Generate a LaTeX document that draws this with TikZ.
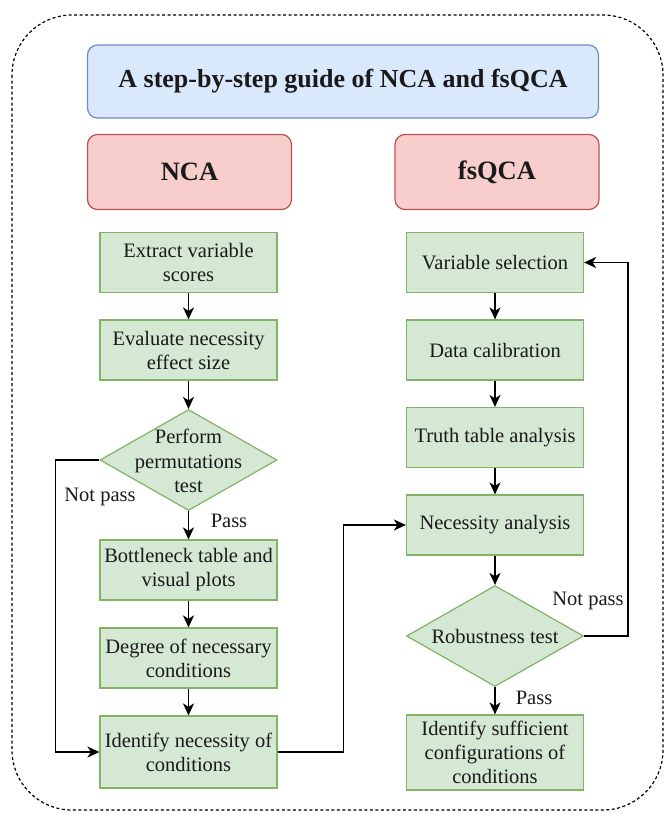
\documentclass[tikz,border=0pt]{standalone}
\usepackage{fontspec}
\setmainfont{Liberation Serif}
\usetikzlibrary{arrows.meta,shapes.geometric}
\definecolor{gfill}{HTML}{D5E8D4}
\definecolor{gline}{HTML}{82B366}
\definecolor{rfill}{HTML}{F8CECC}
\definecolor{rline}{HTML}{B85450}
\definecolor{bfill}{HTML}{DAE8FC}
\definecolor{bline}{HTML}{6C8EBF}
\definecolor{txt}{HTML}{1A1A1A}
\begin{document}
\begin{tikzpicture}[x=1pt,y=-1pt,
  gbox/.style={draw=gline,fill=gfill,line width=1.2pt,minimum width=177pt,minimum height=60pt,align=center,inner sep=1pt,text=txt,font=\fontsize{20.5}{24}\selectfont},
  gdia/.style={draw=gline,fill=gfill,line width=1.2pt,diamond,minimum width=177pt,minimum height=101pt,inner sep=0pt},
  dtext/.style={align=center,text=txt,font=\fontsize{20.5}{24.5}\selectfont},
  hbox/.style={draw=rline,fill=rfill,line width=1.2pt,rounded corners=10pt,minimum width=204pt,minimum height=75pt,text=txt,font=\fontsize{26.5}{30}\selectfont\bfseries},
  lbl/.style={text=txt,font=\fontsize{20.5}{24}\selectfont},
  arr/.style={draw=black,line width=1.6pt,-{Stealth[length=12pt,width=11pt,inset=3.5pt]}},
  ln/.style={draw=black,line width=1.6pt}]
\useasboundingbox (0,0) rectangle (666,817);
% outer dashed frame
\draw[line width=1.2pt,dash pattern=on 3pt off 2.5pt,rounded corners=60pt] (12,15) rectangle (663,810);
% title and headers
\node[draw=bline,fill=bfill,line width=1.2pt,rounded corners=10pt,minimum width=511pt,minimum height=73pt,text=txt,font=\fontsize{26}{30}\selectfont\bfseries] (title) at (343,81.5) {A step-by-step guide of NCA and fsQCA};
\node[hbox] (nca) at (189.5,172) {NCA};
\node[hbox] (fsq) at (497,172) {fsQCA};
% NCA column
\node[gbox] (n1) at (188.5,262.5) {Extract variable\\scores};
\node[gbox] (n2) at (188.5,350) {Evaluate necessity\\effect size};
\node[gdia] (d1) at (188.5,460) {};
\node[dtext] (d1t) at (188.5,461) {Perform\\permutations\\test};
\node[gbox] (n3) at (188.5,570) {Bottleneck table and\\visual plots};
\node[gbox] (n4) at (188.5,658) {Degree of necessary\\conditions};
\node[gbox,minimum height=72pt] (n5) at (188.5,752) {Identify necessity of\\conditions};
% fsQCA column
\node[gbox] (r1) at (495,262.5) {Variable selection};
\node[gbox] (r2) at (495,350) {Data calibration};
\node[gbox] (r3) at (495,437.5) {Truth table analysis};
\node[gbox] (r4) at (495,525) {Necessity analysis};
\node[gdia] (d2) at (495,636) {};
\node[dtext] (d2t) at (495,636) {Robustness test};
\node[gbox,minimum height=75pt] (r5) at (495,752.5) {Identify sufficient\\configurations of\\conditions};
% arrows NCA
\draw[arr] (n1) -- (n2);
\draw[arr] (n2) -- (d1);
\draw[arr] (d1) -- (n3);
\draw[arr] (n3) -- (n4);
\draw[arr] (n4) -- (n5);
\draw[arr] (d1.west) -- ++(-44,0) |- (n5.west);
\draw[arr] (n5.east) -- ++(66,0) |- (r4.west);
% arrows fsQCA
\draw[arr] (r1) -- (r2);
\draw[arr] (r2) -- (r3);
\draw[arr] (r3) -- (r4);
\draw[arr] (r4) -- (d2);
\draw[arr] (d2) -- (r5);
\draw[arr] (d2.east) -- ++(44,0) |- (r1.east);
% labels
\node[lbl] (l1) at (100,497) {Not pass};
\node[lbl] (l2) at (229,521) {Pass};
\node[lbl] (l3) at (588,601) {Not pass};
\node[lbl] (l4) at (534,698) {Pass};
\end{tikzpicture}
\end{document}
